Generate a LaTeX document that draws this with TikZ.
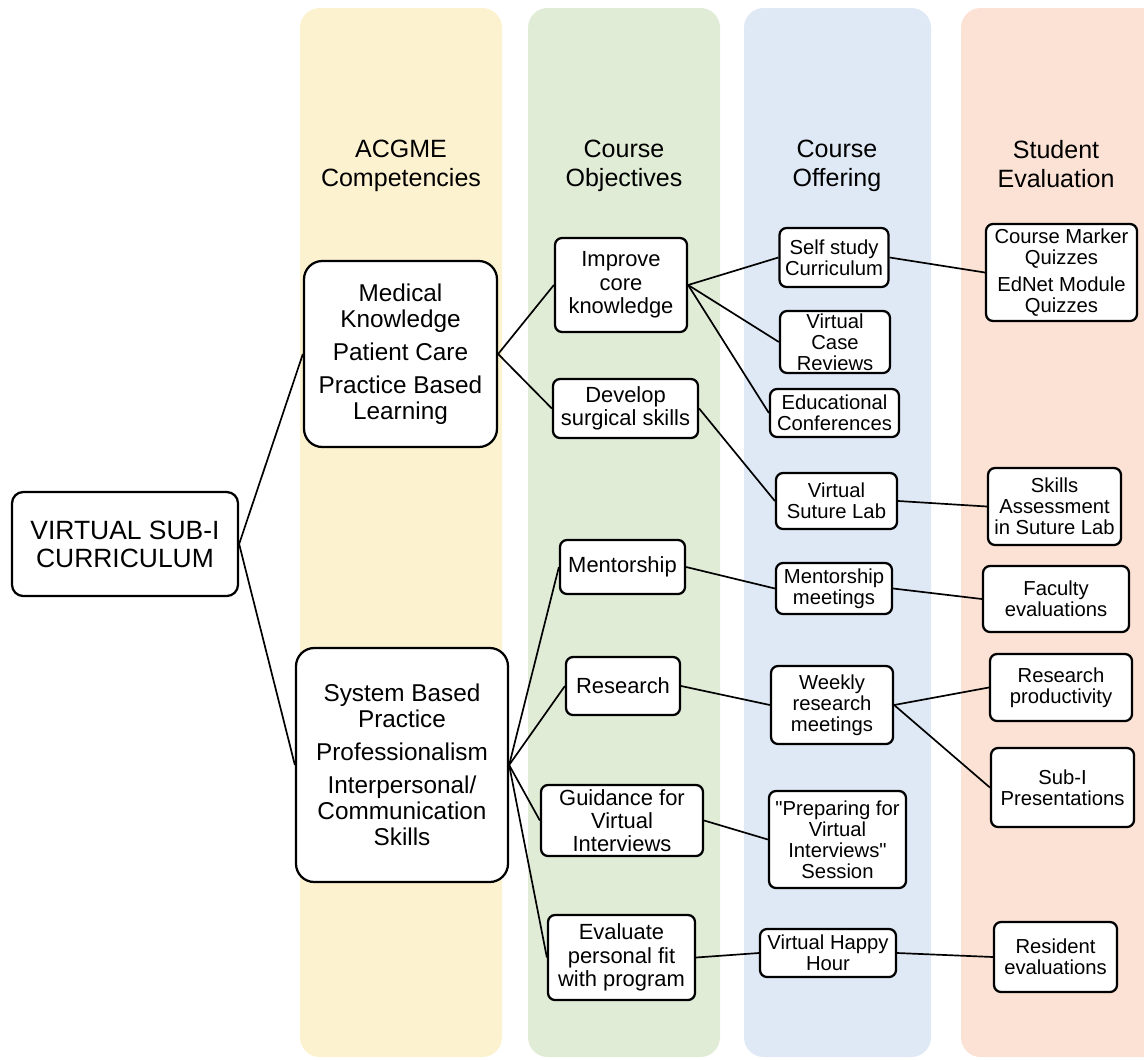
\documentclass[tikz,border=0pt]{standalone}
\usepackage{fontspec}
\setmainfont{Liberation Sans}
\usepackage{tikz}
\definecolor{bandyellow}{RGB}{253,242,208}
\definecolor{bandgreen}{RGB}{225,236,215}
\definecolor{bandblue}{RGB}{222,233,245}
\definecolor{bandorange}{RGB}{251,226,212}

\begin{document}
\begin{tikzpicture}[x=0.025cm,y=-0.025cm,
	wh/.style 2 args={minimum width=#1*0.025cm,minimum height=#2*0.025cm},
	box/.style={draw,line width=1.6pt,rounded corners=5pt,fill=white,align=center,inner sep=0pt,font=\fontsize{14.4}{15}\selectfont},
	objbox/.style={box,font=\fontsize{15.6}{16.6}\selectfont},
	bigbox/.style={box,rounded corners=13pt,font=\fontsize{17.3}{18.5}\selectfont},
	band/.style={rounded corners=14pt},
	head/.style={align=center,anchor=north,inner sep=0pt,font=\fontsize{17.8}{20.6}\selectfont},
	link/.style={line width=1.2pt}]
	\useasboundingbox (0,0) rectangle (1144,1059);
	\clip (0,0) rectangle (1144,1059);
	% column bands
	\fill[bandyellow,band] (300,8) rectangle (502,1057);
	\fill[bandgreen,band] (528,8) rectangle (720,1057);
	\fill[bandblue,band] (744,8) rectangle (931,1057);
	\fill[bandorange,band] (961,8) rectangle (1190,1057);
	\node[head] (hcomp) at (401,140) {ACGME\\Competencies};
	\node[head] (hobj) at (624,140) {Course\\Objectives};
	\node[head] (hoff) at (837,140) {Course\\Offering};
	\node[head] (heval) at (1056,140) {Student\\Evaluation};
	
	% root and competencies
	\node[box,wh={226}{104},rounded corners=8pt,font=\fontsize{18.8}{20}\selectfont] (root) at (125,544) {VIRTUAL SUB-I\\CURRICULUM};
	\node[bigbox,wh={193}{186}] (comp1) at (400.5,354) {Medical\\Knowledge\\[5pt]Patient Care\\[5pt]Practice Based\\Learning};
	\node[bigbox,wh={212}{234}] (comp2) at (402,765) {System Based\\Practice\\[5pt]Professionalism\\[5pt]Interpersonal/\\Communication\\Skills};
	
	% objectives
	\node[objbox,wh={132}{94}] (core) at (621,285) {Improve\\core\\knowledge};
	\node[objbox,wh={145}{59}] (surg) at (625.5,408.5) {Develop\\surgical skills};
	\node[objbox,wh={125}{54}] (ment) at (622.5,567) {Mentorship};
	\node[objbox,wh={114}{58}] (res) at (623,686) {Research};
	\node[objbox,wh={162}{71}] (guid) at (622,820.5) {Guidance for\\Virtual\\Interviews};
	\node[objbox,wh={147}{85}] (fit) at (621.5,957.5) {Evaluate\\personal fit\\with program};
	
	% offerings
	\node[box,wh={109}{59}] (self) at (834,257.5) {Self study\\Curriculum};
	\node[box,wh={110}{62}] (cases) at (835,342) {Virtual\\Case\\Reviews};
	\node[box,wh={129}{48}] (conf) at (834.5,413) {Educational\\Conferences};
	\node[box,wh={121}{56}] (suture) at (836.5,501) {Virtual\\Suture Lab};
	\node[box,wh={116}{51}] (mmeet) at (834,588.5) {Mentorship\\meetings};
	\node[box,wh={122}{78}] (rmeet) at (832,705) {Weekly\\research\\meetings};
	\node[box,wh={137}{97}] (prep) at (837.5,839.5) {\textquotedbl Preparing for\\Virtual\\Interviews\textquotedbl\\Session};
	\node[box,wh={136}{48}] (happy) at (828,953) {Virtual Happy\\Hour};
	
	% evaluations
	\node[box,wh={151}{97}] (quiz) at (1061.5,272.5) {Course Marker\\Quizzes\\[4pt]EdNet Module\\Quizzes};
	\node[box,wh={133}{77}] (skills) at (1054.5,506.5) {Skills\\Assessment\\in Suture Lab};
	\node[box,wh={146}{66}] (fac) at (1056,599) {Faculty\\evaluations};
	\node[box,wh={142}{67}] (prod) at (1061,687.5) {Research\\productivity};
	\node[box,wh={143}{79}] (pres) at (1062.5,787.5) {Sub-I\\Presentations};
	\node[box,wh={123}{70}] (resid) at (1055.5,957) {Resident\\evaluations};
	
	% links
	\draw[link] (root.east) -- (comp1.west);
	\draw[link] (root.east) -- (comp2.west);
	\draw[link] (comp1.east) -- (core.west);
	\draw[link] (comp1.east) -- (surg.west);
	\foreach \n in {ment,res,guid,fit}
		\draw[link] (comp2.east) -- (\n.west);
	\foreach \n in {self,cases,conf}
		\draw[link] (core.east) -- (\n.west);
	\draw[link] (surg.east) -- (suture.west);
	\draw[link] (ment.east) -- (mmeet.west);
	\draw[link] (res.east) -- (rmeet.west);
	\draw[link] (guid.east) -- (prep.west);
	\draw[link] (fit.east) -- (happy.west);
	\draw[link] (self.east) -- (quiz.west);
	\draw[link] (suture.east) -- (skills.west);
	\draw[link] (mmeet.east) -- (fac.west);
	\draw[link] (rmeet.east) -- (prod.west);
	\draw[link] (rmeet.east) -- (pres.west);
	\draw[link] (happy.east) -- (resid.west);
\end{tikzpicture}
\end{document}
